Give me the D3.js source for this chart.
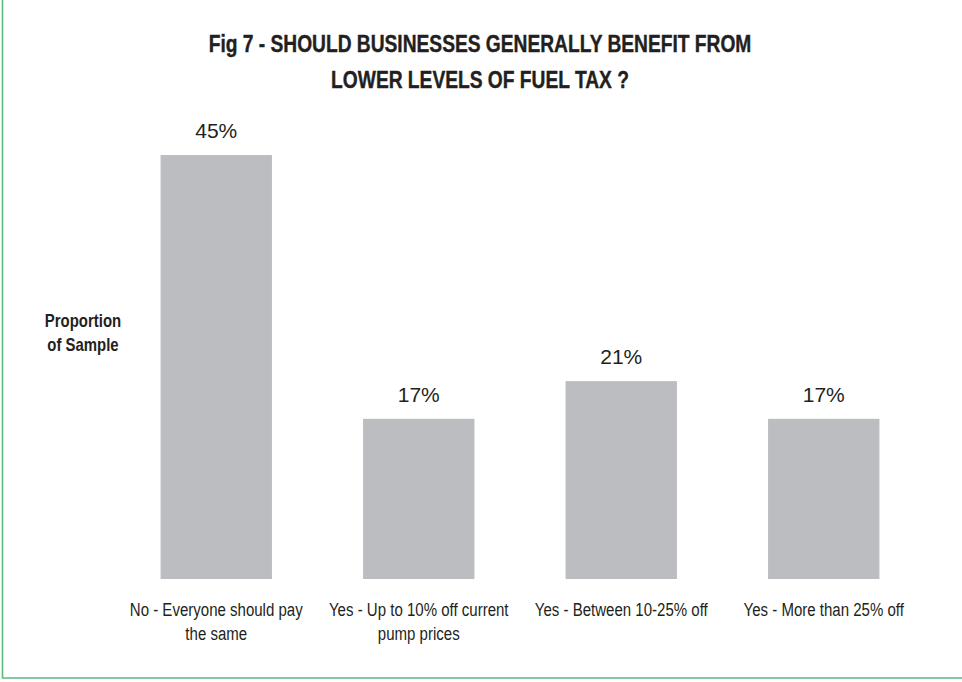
<!DOCTYPE html>
<html>
<head>
<meta charset="utf-8">
<script src="https://cdn.jsdelivr.net/npm/d3@7/dist/d3.min.js"></script>
<style>
  html, body { margin: 0; padding: 0; background: #fff; }
  svg { display: block; }
</style>
</head>
<body>
<svg id="chart" width="962" height="682"></svg>
<script>
// Survey answers and their share of the sample (%)
const categories = [
  ["No - Everyone should pay", "the same"],
  ["Yes - Up to 10% off current", "pump prices"],
  ["Yes - Between 10-25% off"],
  ["Yes - More than 25% off"]
];
const values = [45, 17, 21, 17];
const titleLines = [
  "Fig 7 - SHOULD BUSINESSES GENERALLY BENEFIT FROM",
  "LOWER LEVELS OF FUEL TAX ?"
];
const axisLabelLines = ["Proportion", "of Sample"];

const sans = "'Liberation Sans', Arial, Helvetica, sans-serif";
// horizontal squeeze giving a condensed look to the sans face
const condensed = sx => `scale(${sx},1)`;

const svg = d3.select("#chart");
const keys = categories.map((c, i) => i);

const x = d3.scaleBand()
  .domain(keys)
  .range([115, 925])
  .paddingInner(0.45)
  .paddingOuter(0.225);

const y = d3.scaleLinear()
  .domain([0, 45])
  .range([579, 155]);

// green frame on the left and bottom
svg.append("path")
  .attr("d", "M2.5,0 V678 H962")
  .attr("fill", "none")
  .attr("stroke", "#5cb97c")
  .attr("stroke-width", 1.6);

// title
svg.append("g")
  .attr("transform", "translate(480,0)")
  .append("text")
  .attr("transform", condensed(0.8))
  .attr("text-anchor", "middle")
  .attr("font-family", sans)
  .attr("font-weight", "bold")
  .attr("font-size", 24)
  .attr("fill", "#231f20")
  .attr("stroke", "#231f20")
  .attr("stroke-width", 0.4)
  .selectAll("tspan")
  .data(titleLines)
  .join("tspan")
  .attr("x", 0)
  .attr("y", (d, i) => 52 + i * 36)
  .text(d => d);

// bars
svg.append("g")
  .selectAll("rect")
  .data(values)
  .join("rect")
  .attr("x", (d, i) => x(i))
  .attr("y", d => y(d))
  .attr("width", x.bandwidth())
  .attr("height", d => y(0) - y(d))
  .attr("fill", "#bcbdc1");

// value labels
svg.append("g")
  .selectAll("text")
  .data(values)
  .join("text")
  .attr("x", (d, i) => x(i) + x.bandwidth() / 2)
  .attr("y", d => y(d) - 17)
  .attr("text-anchor", "middle")
  .attr("font-family", sans)
  .attr("font-size", 21)
  .attr("fill", "#231f20")
  .text(d => d + "%");

// category labels under the bars
const xAxis = d3.axisBottom(x).tickSize(0).tickFormat("");
const axisG = svg.append("g")
  .attr("transform", `translate(0,${y(0)})`)
  .call(xAxis);
axisG.select(".domain").remove();
axisG.selectAll(".tick").each(function (d) {
  const t = d3.select(this).append("text")
    .attr("transform", condensed(0.835))
    .attr("text-anchor", "middle")
    .attr("font-family", sans)
    .attr("font-size", 18)
    .attr("fill", "#231f20");
  t.selectAll("tspan")
    .data(categories[d])
    .join("tspan")
    .attr("x", 0)
    .attr("y", (s, i) => 37 + i * 24)
    .text(s => s);
});

// y-axis caption
svg.append("g")
  .attr("transform", "translate(83,0)")
  .append("text")
  .attr("transform", condensed(0.83))
  .attr("text-anchor", "middle")
  .attr("font-family", sans)
  .attr("font-weight", "bold")
  .attr("font-size", 18)
  .attr("fill", "#231f20")
  .selectAll("tspan")
  .data(axisLabelLines)
  .join("tspan")
  .attr("x", 0)
  .attr("y", (d, i) => 327 + i * 24)
  .text(d => d);
</script>
</body>
</html>
